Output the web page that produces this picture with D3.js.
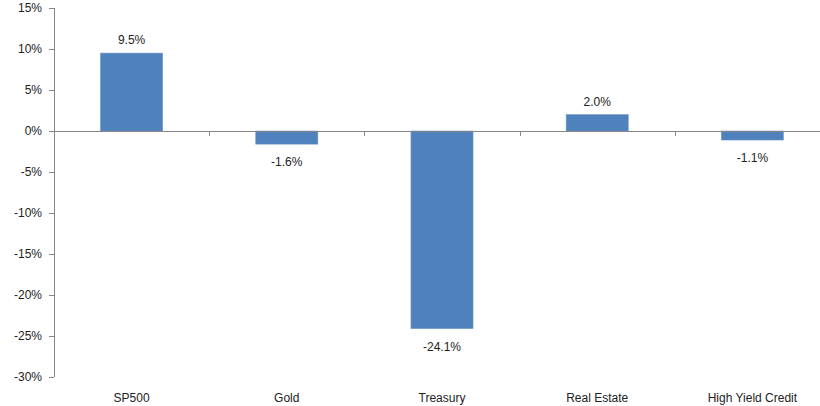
<!DOCTYPE html>
<html>
<head>
<meta charset="utf-8">
<script src="https://cdn.jsdelivr.net/npm/d3@7"></script>
<style>
  body { margin: 0; background: #fff; }
  text { font-family: "Liberation Sans", Arial, sans-serif; font-size: 12px; fill: #222; }
</style>
</head>
<body>
<div id="canvas"></div>
<script>
const categories = ["SP500", "Gold", "Treasury", "Real Estate", "High Yield Credit"];
const returns = [9.5, -1.6, -24.1, 2.0, -1.1];
const yTicks = [15, 10, 5, 0, -5, -10, -15, -20, -25, -30];

const width = 820;
const height = 406;
const margin = { top: 8, left: 54, bottom: 29, right: -10 };

const iwidth = width - margin.left - margin.right;
const iheight = height - margin.top - margin.bottom;

const svg = d3.select("#canvas").append("svg")
  .attr("width", width)
  .attr("height", height);

const g = svg.append("g")
  .attr("transform", `translate(${margin.left}, ${margin.top})`);

const y = d3.scaleLinear().domain([-30, 15]).range([iheight, 0]);
const x = d3.scaleBand()
  .domain(categories)
  .range([0, iwidth])
  .paddingInner(0.6)
  .paddingOuter(0.3);

const axisColor = "#868686";

// y axis
const yAxis = g.append("g")
  .call(d3.axisLeft(y).tickValues(yTicks).tickSize(5).tickPadding(7).tickFormat((d) => d + "%"));
yAxis.select(".domain").attr("stroke", axisColor).attr("d", `M0.5,${y(15)}V${y(-30)}`);
yAxis.selectAll(".tick line").attr("stroke", axisColor);
yAxis.selectAll(".tick text").style("font-size", "12px").attr("fill", "#222");

// bars
g.selectAll("rect.bar")
  .data(returns)
  .enter()
  .append("rect")
  .attr("class", "bar")
  .attr("x", (d, i) => x(categories[i]))
  .attr("y", (d) => y(Math.max(0, d)))
  .attr("width", x.bandwidth())
  .attr("height", (d) => Math.abs(y(d) - y(0)))
  .attr("fill", "#4F81BD")
  .attr("stroke", "#6F95C8")
  .attr("stroke-width", 0.6);

// zero line with category ticks
const step = x.step();
const zero = g.append("g").attr("transform", `translate(0, ${y(0)})`);
zero.append("line")
  .attr("x1", 0).attr("x2", iwidth)
  .attr("y1", 0.5).attr("y2", 0.5)
  .attr("stroke", axisColor);
zero.selectAll("line.ct")
  .data(d3.range(categories.length + 1))
  .enter()
  .append("line")
  .attr("class", "ct")
  .attr("x1", (i) => Math.round(i * step) + 0.5)
  .attr("x2", (i) => Math.round(i * step) + 0.5)
  .attr("y1", 0).attr("y2", 5)
  .attr("stroke", axisColor);

// value labels
g.selectAll("text.val")
  .data(returns)
  .enter()
  .append("text")
  .attr("class", "val")
  .attr("text-anchor", "middle")
  .attr("x", (d, i) => x(categories[i]) + x.bandwidth() / 2)
  .attr("y", (d) => (d >= 0 ? y(d) - 9 : y(d) + 22))
  .text((d) => d.toFixed(1) + "%");

// category labels
g.selectAll("text.cat")
  .data(categories)
  .enter()
  .append("text")
  .attr("class", "cat")
  .attr("text-anchor", "middle")
  .attr("x", (c) => x(c) + x.bandwidth() / 2)
  .attr("y", iheight + 25)
  .text((c) => c);
</script>
</body>
</html>
